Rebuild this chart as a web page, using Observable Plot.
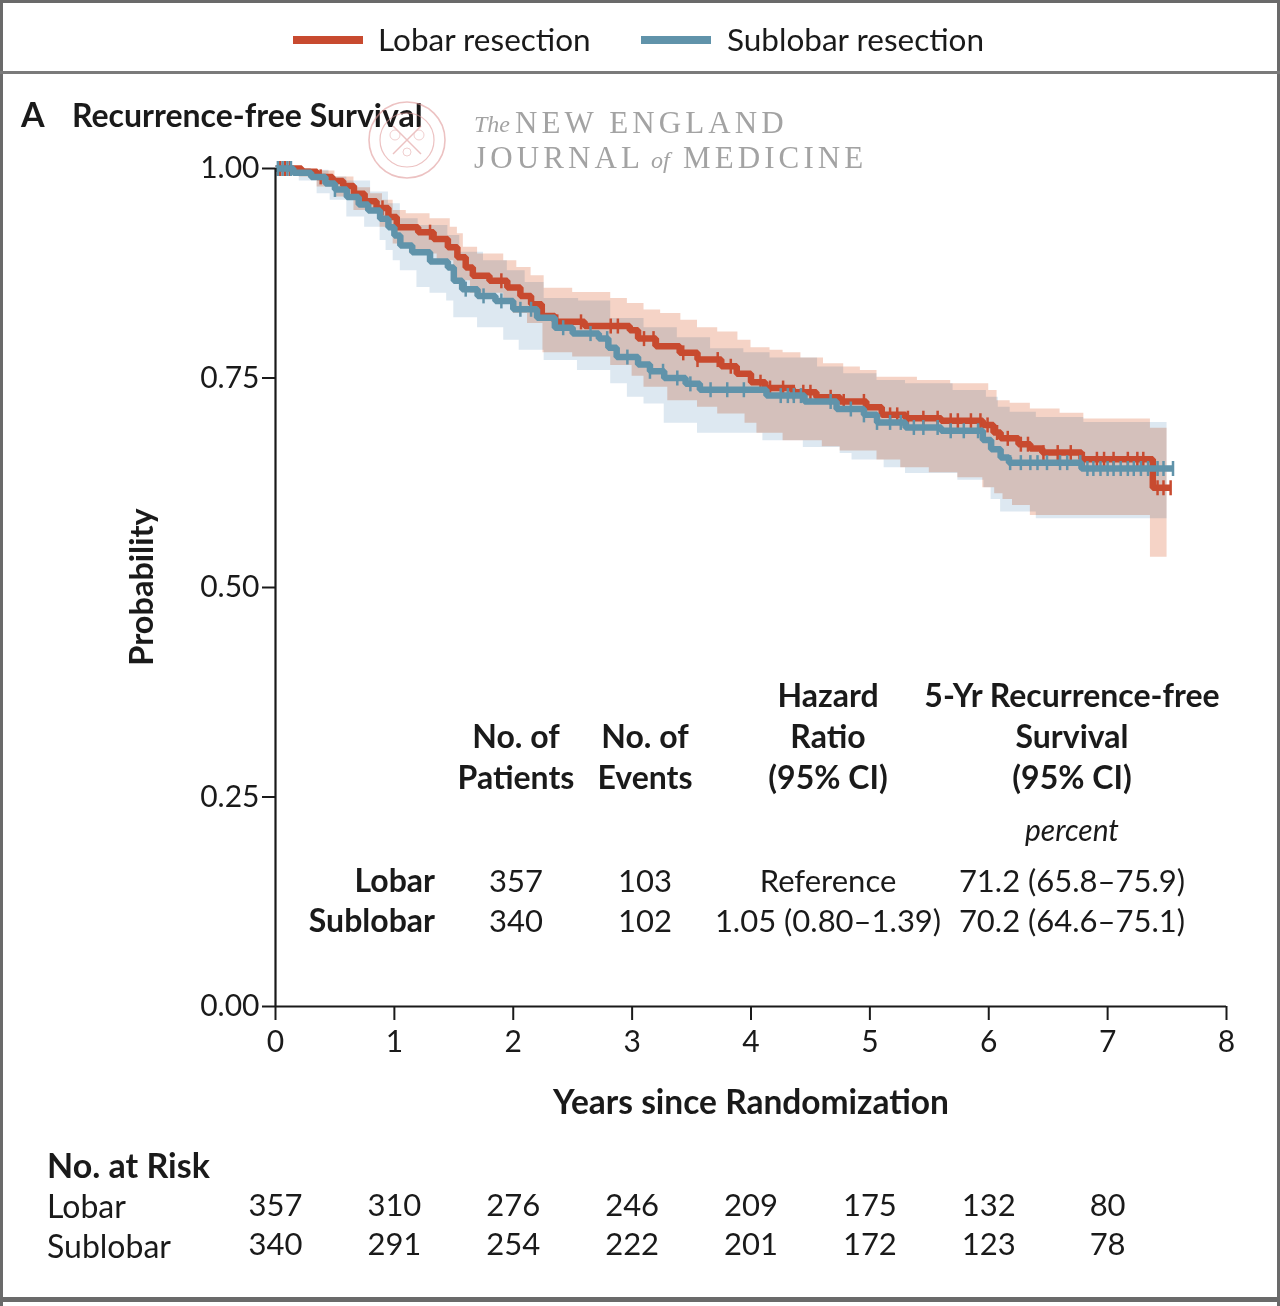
<!DOCTYPE html>
<html>
<head>
<meta charset="utf-8">
<script src="https://cdn.jsdelivr.net/npm/d3@7"></script>
<script src="https://cdn.jsdelivr.net/npm/@observablehq/plot@0.6"></script>
<style>
  html, body { margin: 0; padding: 0; background: #fff; }
  #wrap { position: relative; width: 1280px; height: 1306px; overflow: hidden; background: #fff; font-family: Lato, "Open Sans", sans-serif; color: #1a1a1a; }
  .t { position: absolute; white-space: nowrap; line-height: 1; }
  .frame { position: absolute; background: #6a6a6a; }
</style>
</head>
<body>
<div id="wrap"></div>
<script>
// ---------------- data ----------------
const series = ["Lobar resection", "Sublobar resection"];
const seriesColors = ["#c84a2f", "#6093aa"];

const yearsLobar = [0, 0.22, 0.35, 0.48, 0.57, 0.66, 0.75, 0.85, 0.95, 1.02, 1.2, 1.33, 1.45, 1.53, 1.6, 1.66, 1.8, 1.95, 2.06, 2.15, 2.24, 2.35, 2.6, 2.98, 3.05, 3.2, 3.4, 3.55, 3.75, 3.88, 4.0, 4.12, 4.35, 4.55, 4.75, 4.97, 5.1, 5.3, 5.6, 5.95, 6.04, 6.1, 6.25, 6.35, 6.45, 6.78, 7.38, 7.53];
const survLobar  = [1.0, 0.996, 0.99, 0.985, 0.979, 0.97, 0.961, 0.953, 0.942, 0.93, 0.924, 0.916, 0.906, 0.894, 0.882, 0.872, 0.866, 0.858, 0.848, 0.838, 0.824, 0.817, 0.812, 0.807, 0.797, 0.788, 0.78, 0.772, 0.764, 0.755, 0.745, 0.738, 0.733, 0.727, 0.722, 0.715, 0.706, 0.702, 0.699, 0.694, 0.685, 0.678, 0.671, 0.666, 0.661, 0.653, 0.619, 0.619];

const yearsSublobar = [0, 0.15, 0.3, 0.42, 0.5, 0.6, 0.7, 0.78, 0.88, 0.95, 1.0, 1.05, 1.15, 1.3, 1.45, 1.5, 1.57, 1.7, 1.85, 2.0, 2.2, 2.35, 2.5, 2.72, 2.8, 2.87, 3.05, 3.15, 3.27, 3.45, 3.57, 4.13, 4.45, 4.72, 4.95, 5.06, 5.3, 5.6, 5.95, 6.02, 6.1, 6.17, 6.78, 7.55];
const survSublobar  = [1.0, 0.995, 0.99, 0.982, 0.975, 0.966, 0.957, 0.95, 0.94, 0.93, 0.92, 0.908, 0.9, 0.889, 0.882, 0.866, 0.856, 0.848, 0.842, 0.832, 0.822, 0.81, 0.803, 0.797, 0.786, 0.775, 0.766, 0.758, 0.75, 0.743, 0.736, 0.729, 0.722, 0.713, 0.706, 0.697, 0.691, 0.687, 0.676, 0.665, 0.655, 0.649, 0.642, 0.642];

// 95% confidence bands
const lobarHiYears = [0, 0.3, 0.5, 0.66, 0.8, 0.9, 0.99, 1.1, 1.3, 1.47, 1.53, 1.58, 1.7, 1.92, 2.03, 2.15, 2.26, 2.5, 2.82, 2.96, 3.1, 3.24, 3.41, 3.55, 3.72, 3.89, 4.0, 4.16, 4.27, 4.42, 4.61, 4.78, 4.92, 5.06, 5.4, 5.68, 6.0, 6.07, 6.18, 6.35, 6.6, 6.8, 7.36, 7.5];
const lobarHi      = [1.0, 0.997, 0.99, 0.977, 0.97, 0.962, 0.95, 0.946, 0.94, 0.93, 0.922, 0.906, 0.898, 0.89, 0.882, 0.872, 0.857, 0.852, 0.845, 0.839, 0.831, 0.827, 0.819, 0.81, 0.805, 0.795, 0.786, 0.783, 0.78, 0.774, 0.767, 0.763, 0.759, 0.751, 0.747, 0.743, 0.735, 0.723, 0.72, 0.713, 0.708, 0.701, 0.69, 0.69];
const lobarLoYears = [0, 0.2, 0.35, 0.5, 0.66, 0.88, 0.99, 1.13, 1.36, 1.5, 1.64, 1.92, 2.0, 2.12, 2.25, 2.5, 2.82, 3.0, 3.1, 3.3, 3.55, 3.72, 3.95, 4.05, 4.27, 4.6, 4.75, 5.06, 5.26, 5.5, 5.74, 5.95, 6.05, 6.12, 6.2, 6.35, 7.36, 7.5];
const lobarLo      = [1.0, 0.99, 0.978, 0.966, 0.95, 0.93, 0.91, 0.898, 0.89, 0.866, 0.851, 0.842, 0.827, 0.815, 0.78, 0.775, 0.765, 0.752, 0.739, 0.723, 0.715, 0.707, 0.696, 0.684, 0.675, 0.668, 0.663, 0.652, 0.643, 0.637, 0.631, 0.619, 0.612, 0.605, 0.598, 0.586, 0.536, 0.536];

const sublobarHiYears = [0, 0.3, 0.45, 0.6, 0.8, 0.95, 1.05, 1.2, 1.45, 1.55, 1.75, 1.95, 2.1, 2.26, 2.55, 2.82, 3.1, 3.38, 3.66, 3.94, 4.16, 4.56, 4.78, 5.06, 5.3, 5.7, 5.98, 6.08, 6.18, 6.4, 6.8, 7.5];
const sublobarHi      = [1.0, 0.998, 0.99, 0.985, 0.972, 0.958, 0.94, 0.932, 0.92, 0.9, 0.89, 0.878, 0.864, 0.845, 0.842, 0.821, 0.81, 0.798, 0.785, 0.78, 0.774, 0.763, 0.755, 0.747, 0.743, 0.735, 0.727, 0.715, 0.709, 0.703, 0.697, 0.697];
const sublobarLoYears = [0, 0.2, 0.35, 0.46, 0.6, 0.75, 0.88, 0.93, 0.99, 1.05, 1.19, 1.3, 1.44, 1.5, 1.7, 1.92, 2.05, 2.26, 2.54, 2.82, 2.96, 3.1, 3.27, 3.55, 4.1, 4.44, 4.75, 4.85, 5.12, 5.3, 5.74, 5.96, 6.02, 6.1, 6.4, 7.5];
const sublobarLo      = [1.0, 0.985, 0.97, 0.962, 0.942, 0.93, 0.914, 0.902, 0.89, 0.878, 0.858, 0.851, 0.842, 0.822, 0.81, 0.795, 0.783, 0.771, 0.759, 0.743, 0.727, 0.719, 0.696, 0.684, 0.675, 0.667, 0.66, 0.652, 0.643, 0.636, 0.628, 0.619, 0.605, 0.59, 0.582, 0.582];

// censoring marks
const censorLobar = [0.04, 0.08, 0.12, 0.38, 0.9, 1.3, 1.9, 2.37, 2.57, 2.82, 2.88, 3.1, 3.18, 3.43, 3.55, 3.72, 3.83, 4.08, 4.16, 4.27, 4.36, 4.44, 4.5, 4.67, 4.78, 4.95, 5.17, 5.23, 5.32, 5.45, 5.57, 5.68, 5.74, 5.85, 5.93, 5.99, 6.07, 6.16, 6.27, 6.33, 6.46, 6.58, 6.69, 6.8, 6.91, 6.97, 7.05, 7.17, 7.25, 7.3, 7.42, 7.47, 7.53];
const censorSublobar = [0.02, 0.06, 0.1, 0.13, 0.5, 1.6, 1.75, 1.9, 2.06, 2.15, 2.42, 2.65, 2.79, 2.96, 3.15, 3.26, 3.38, 3.49, 3.66, 3.8, 3.94, 4.25, 4.31, 4.36, 4.42, 4.67, 4.84, 4.95, 5.06, 5.17, 5.26, 5.37, 5.45, 5.57, 5.68, 5.79, 5.91, 6.18, 6.27, 6.35, 6.41, 6.49, 6.6, 6.66, 6.77, 6.83, 6.88, 6.94, 7.0, 7.05, 7.11, 7.17, 7.22, 7.28, 7.34, 7.42, 7.47, 7.55];

// axis ticks
const xTicks = [0, 1, 2, 3, 4, 5, 6, 7, 8];
const yTicks = [0, 0.25, 0.5, 0.75, 1.0];

// number at risk
const riskYears = [0, 1, 2, 3, 4, 5, 6, 7];
const riskLobar = [357, 310, 276, 246, 209, 175, 132, 80];
const riskSublobar = [340, 291, 254, 222, 201, 172, 123, 78];
const riskGroups = ["Lobar", "Sublobar"];

// summary table
const tableGroups = ["Lobar", "Sublobar"];
const tablePatients = ["357", "340"];
const tableEvents = ["103", "102"];
const tableHR = ["Reference", "1.05 (0.80\u20131.39)"];
const tableRFS = ["71.2 (65.8\u201375.9)", "70.2 (64.6\u201375.1)"];

// ---------------- helpers ----------------
function stepAt(xs, vs, t) {
  let v = vs[0];
  for (let i = 0; i < xs.length; i++) { if (xs[i] <= t + 1e-9) v = vs[i]; else break; }
  return v;
}
function band(hiX, hiV, loX, loV) {
  const xs = Array.from(new Set([...hiX, ...loX])).sort((a, b) => a - b);
  return xs.map(x => ({x, y1: stepAt(loX, loV, x), y2: stepAt(hiX, hiV, x)}));
}
function curve(xs, vs) { return xs.map((x, i) => ({x, y: vs[i]})); }
function censors(ts, xs, vs) { return ts.map(t => ({x: t, y: stepAt(xs, vs, t)})); }

const vbar = { draw(ctx) { ctx.moveTo(0, -7.5); ctx.lineTo(0, 7.5); } };

const wrap = document.getElementById("wrap");
const FONT = "Lato, 'Open Sans', sans-serif";

// ---------------- main plot ----------------
const W = 1280, H = 1140;
const main = Plot.plot({
  width: W, height: H,
  marginLeft: 275, marginRight: 54, marginTop: 168, marginBottom: H - 1006,
  x: {domain: [0, 8]},
  y: {domain: [0, 1]},
  style: {background: "transparent", fontFamily: FONT, fontSize: "30px", color: "#1a1a1a", overflow: "visible"},
  marks: [
    Plot.areaY(band(lobarHiYears, lobarHi, lobarLoYears, lobarLo), {x: "x", y1: "y1", y2: "y2", curve: "step-after", fill: "#f5d3c6"}),
    Plot.areaY(band(sublobarHiYears, sublobarHi, sublobarLoYears, sublobarLo), {x: "x", y1: "y1", y2: "y2", curve: "step-after", fill: "#dde8f1", mixBlendMode: "multiply"}),
    Plot.line(curve(yearsLobar, survLobar), {x: "x", y: "y", curve: "step-after", stroke: seriesColors[0], strokeWidth: 6.5, strokeLinejoin: "miter", strokeLinecap: "butt"}),
    Plot.dot(censors(censorLobar, yearsLobar, survLobar), {x: "x", y: "y", symbol: vbar, stroke: seriesColors[0], strokeWidth: 2.5, fill: "none"}),
    Plot.line(curve(yearsSublobar, survSublobar), {x: "x", y: "y", curve: "step-after", stroke: seriesColors[1], strokeWidth: 6.5, strokeLinejoin: "miter", strokeLinecap: "butt"}),
    Plot.dot(censors(censorSublobar, yearsSublobar, survSublobar), {x: "x", y: "y", symbol: vbar, stroke: seriesColors[1], strokeWidth: 2.5, fill: "none"}),
    Plot.axisY({ticks: yTicks, tickFormat: d3.format(".2f"), tickSize: 13, tickPadding: 3, label: null, strokeWidth: 2, stroke: "#1a1a1a"}),
    Plot.axisX({ticks: xTicks, tickFormat: d3.format("d"), tickSize: 14, tickPadding: 10, label: null, strokeWidth: 2, stroke: "#1a1a1a"}),
    Plot.ruleX([0], {stroke: "#1a1a1a", strokeWidth: 2.2}),
    Plot.ruleY([0], {stroke: "#1a1a1a", strokeWidth: 2.2})
  ]
});
main.style.position = "absolute";
main.style.left = "0px";
main.style.top = "0px";
wrap.appendChild(main);

// ---------------- number at risk (same x scale) ----------------
const riskRows = [];
riskYears.forEach((yr, i) => {
  riskRows.push({x: yr, g: riskGroups[0], n: riskLobar[i]});
  riskRows.push({x: yr, g: riskGroups[1], n: riskSublobar[i]});
});
const RT = 1140;
const risk = Plot.plot({
  width: W, height: 150,
  marginLeft: 275, marginRight: 54, marginTop: 0, marginBottom: 0,
  x: {domain: [0, 8], axis: null},
  y: {type: "point", domain: riskGroups, range: [1206 - RT, 1245 - RT], padding: 0, axis: null},
  style: {background: "transparent", fontFamily: FONT, fontSize: "31px", color: "#1a1a1a", overflow: "visible"},
  marks: [
    Plot.text(riskRows, {x: "x", y: "g", text: "n", fill: "#1a1a1a", fontSize: 31})
  ]
});
risk.style.position = "absolute";
risk.style.left = "0px";
risk.style.top = RT + "px";
wrap.appendChild(risk);

// ---------------- HTML text ----------------
function place(txt, x, y, o = {}) {
  const d = document.createElement("div");
  d.className = "t";
  d.textContent = txt;
  d.style.left = x + "px";
  d.style.top = y + "px";
  d.style.fontSize = (o.size || 31) + "px";
  d.style.fontWeight = o.bold ? "700" : "400";
  if (o.italic) d.style.fontStyle = "italic";
  if (o.family) d.style.fontFamily = o.family;
  if (o.color) d.style.color = o.color;
  if (o.spacing) d.style.letterSpacing = o.spacing;
  const ax = o.anchor === "end" ? "-100%" : o.anchor === "middle" ? "-50%" : "0";
  d.style.transform = `translate(${ax}, -50%)` + (o.rotate ? ` rotate(${o.rotate}deg)` : "");
  wrap.appendChild(d);
  return d;
}

// frame
function rect(x, y, w, h, c) {
  const d = document.createElement("div");
  d.className = "frame";
  Object.assign(d.style, {left: x + "px", top: y + "px", width: w + "px", height: h + "px"});
  if (c) d.style.background = c;
  wrap.appendChild(d);
}
rect(0, 0, 1280, 3);
rect(0, 0, 3, 1306);
rect(1277, 0, 3, 1306);
rect(0, 71, 1280, 3, "#7a7a7a");
rect(0, 1297, 1280, 5, "#6a6a6a");

// legend
const legendItems = [
  {sx: 293, tx: 378},
  {sx: 641, tx: 727}
];
series.forEach((s, i) => {
  const sw = document.createElement("div");
  Object.assign(sw.style, {position: "absolute", left: legendItems[i].sx + "px", top: "36px", width: "70px", height: "8px", background: seriesColors[i]});
  wrap.appendChild(sw);
  place(s, legendItems[i].tx, 40, {size: 31.5});
});

// panel title
place("A", 21, 114, {size: 34, bold: true});
place("Recurrence-free Survival", 72, 115, {size: 32, bold: true});

// watermark seal
const seal = document.createElementNS("http://www.w3.org/2000/svg", "svg");
seal.setAttribute("width", "90"); seal.setAttribute("height", "90");
Object.assign(seal.style, {position: "absolute", left: "362px", top: "95px", opacity: "0.6"});
seal.innerHTML = `
  <circle cx="45" cy="45" r="38" fill="none" stroke="#e09a9a" stroke-width="1.6"/>
  <circle cx="45" cy="45" r="27" fill="none" stroke="#e09a9a" stroke-width="1.2"/>
  <line x1="31" y1="31" x2="59" y2="59" stroke="#e09a9a" stroke-width="1.4"/>
  <line x1="59" y1="31" x2="31" y2="59" stroke="#e09a9a" stroke-width="1.4"/>
  <circle cx="33" cy="40" r="5" fill="none" stroke="#e09a9a" stroke-width="0.8"/>
  <circle cx="57" cy="40" r="5" fill="none" stroke="#e09a9a" stroke-width="0.8"/>
  <circle cx="45" cy="57" r="4" fill="none" stroke="#e09a9a" stroke-width="0.8"/>`;
wrap.appendChild(seal);
const SERIF = "'Liberation Serif', 'DejaVu Serif', serif";
place("The", 474, 124, {size: 24, family: SERIF, color: "#a3a3a3", italic: true});
place("NEW ENGLAND", 515, 122, {size: 31, family: SERIF, color: "#a3a3a3", spacing: "4.1px"});
place("JOURNAL", 474, 157, {size: 31, family: SERIF, color: "#a3a3a3", spacing: "4.1px"});
place("of", 651, 160, {size: 24, family: SERIF, color: "#a3a3a3", italic: true});
place("MEDICINE", 683, 157, {size: 31, family: SERIF, color: "#a3a3a3", spacing: "4.1px"});

// axis titles
place("Probability", 141, 587, {size: 32.5, bold: true, anchor: "middle", rotate: -90});
place("Years since Randomization", 751, 1102, {size: 33.5, bold: true, anchor: "middle"});

// summary table
const colX = [516, 645, 828, 1072];
const HS = 32;
place("Hazard", colX[2], 695, {bold: true, anchor: "middle", size: HS});
place("5-Yr Recurrence-free", colX[3], 695, {bold: true, anchor: "middle", size: HS});
place("No. of", colX[0], 736, {bold: true, anchor: "middle", size: HS});
place("No. of", colX[1], 736, {bold: true, anchor: "middle", size: HS});
place("Ratio", colX[2], 736, {bold: true, anchor: "middle", size: HS});
place("Survival", colX[3], 736, {bold: true, anchor: "middle", size: HS});
place("Patients", colX[0], 777, {bold: true, anchor: "middle", size: HS});
place("Events", colX[1], 777, {bold: true, anchor: "middle", size: HS});
place("(95% CI)", colX[2], 777, {bold: true, anchor: "middle", size: HS});
place("(95% CI)", colX[3], 777, {bold: true, anchor: "middle", size: HS});
place("percent", colX[3], 829, {italic: true, anchor: "middle", size: 30});
const rowY = [880, 920];
tableGroups.forEach((g, i) => {
  place(g, 435, rowY[i], {bold: true, anchor: "end", size: HS});
  place(tablePatients[i], colX[0], rowY[i], {anchor: "middle"});
  place(tableEvents[i], colX[1], rowY[i], {anchor: "middle"});
  place(tableHR[i], colX[2], rowY[i], {anchor: "middle"});
  place(tableRFS[i], colX[3], rowY[i], {anchor: "middle"});
});

// risk table labels
place("No. at Risk", 47, 1165, {bold: true, size: 34});
place(riskGroups[0], 47, 1206, {size: 32});
place(riskGroups[1], 47, 1246, {size: 32});
</script>
</body>
</html>
